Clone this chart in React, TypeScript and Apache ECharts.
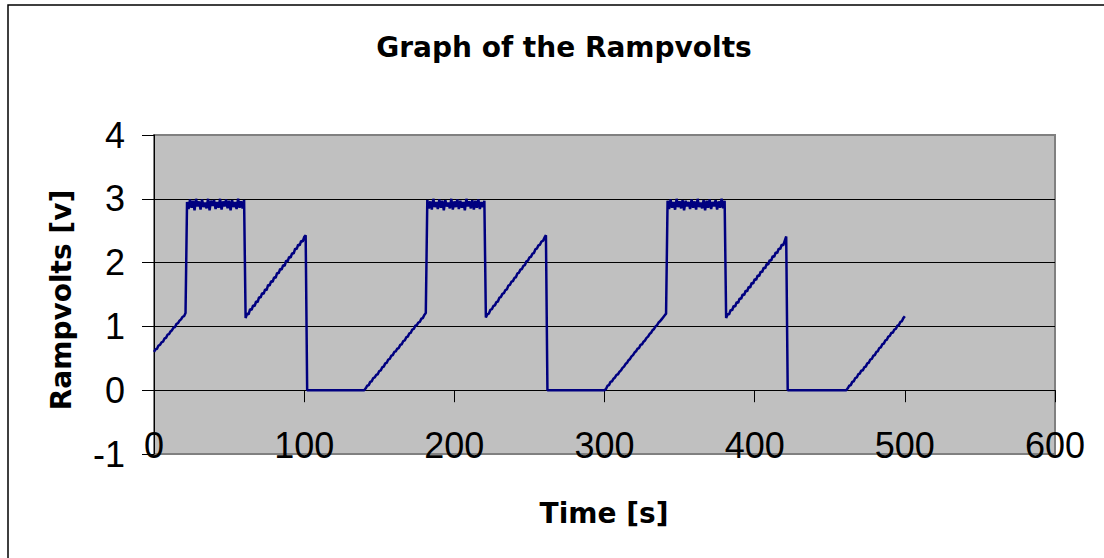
import React, { useEffect, useRef } from "react";
import * as echarts from "echarts";

// Sampled once per second, t = 0 .. 500 s
const rampUpA = [0.60,0.64,0.65,0.70,0.71,0.75,0.76,0.81,0.82,0.87,0.88,0.92,0.94,0.98,0.99,1.04,1.05,1.09,1.11,1.15,1.16,1.21];
const plateauA = [2.95,2.84,2.99,2.86,2.97,2.82,3.0,2.88,2.96,2.83,2.99,2.87,2.94,2.85,3.0,2.82,2.97,2.89,2.98,2.84,2.95,2.86,3.0,2.83,2.96,2.88,2.99,2.85,2.97,2.82,2.98,2.87,2.95,2.84,3.0,2.86,2.96,2.85,2.98];
const slopeA = [1.13,1.20,1.19,1.27,1.26,1.33,1.32,1.39,1.38,1.46,1.45,1.52,1.51,1.58,1.57,1.65,1.64,1.71,1.70,1.77,1.76,1.84,1.83,1.90,1.89,1.96,1.95,2.03,2.02,2.09,2.08,2.15,2.14,2.22,2.21,2.28,2.27,2.34,2.33,2.40,2.43];
const zeroA = [0,0,0,0,0,0,0,0,0,0, 0,0,0,0,0,0,0,0,0,0, 0,0,0,0,0,0,0,0,0,0, 0,0,0,0,0,0,0,0,0];
const rampUpA2 = [0.03,0.07,0.08,0.13,0.14,0.19,0.20,0.24,0.25,0.30,0.31,0.36,0.37,0.42,0.43,0.48,0.49,0.54,0.55,0.60];

const rampUpB = [0.61,0.65,0.66,0.71,0.72,0.77,0.78,0.83,0.84,0.89,0.90,0.95,0.96,1.01,1.02,1.06,1.07,1.12,1.13,1.18,1.21];
const plateauB = [2.98,2.85,2.96,2.83,3.0,2.87,2.95,2.84,2.99,2.86,2.97,2.82,2.98,2.88,2.94,2.85,3.0,2.83,2.96,2.87,2.99,2.84,2.97,2.86,2.95,2.82,3.0,2.88,2.96,2.85,2.98,2.83,2.97,2.86,2.99,2.84,2.95,2.87,2.97];
const slopeB = [1.14,1.19,1.20,1.26,1.27,1.32,1.33,1.38,1.39,1.45,1.46,1.51,1.52,1.57,1.58,1.64,1.65,1.70,1.71,1.76,1.77,1.83,1.84,1.89,1.90,1.95,1.96,2.02,2.03,2.08,2.09,2.14,2.15,2.21,2.22,2.27,2.28,2.33,2.34,2.39,2.43];
const zeroB = [0,0,0,0,0,0,0,0,0,0, 0,0,0,0,0,0,0,0,0,0, 0,0,0,0,0,0,0,0,0,0, 0,0,0,0,0,0,0,0,0];
const rampUpB2 = [0.02,0.07,0.08,0.13,0.14,0.18,0.20,0.24,0.25,0.29,0.31,0.35,0.37,0.41,0.43,0.47,0.49,0.53,0.55,0.59];

const rampUpC = [0.61,0.65,0.66,0.71,0.72,0.76,0.78,0.82,0.84,0.88,0.90,0.94,0.96,1.00,1.02,1.06,1.08,1.11,1.14,1.17,1.20];
const plateauC = [2.97,2.84,2.99,2.86,2.95,2.83,3.0,2.87,2.96,2.85,2.98,2.82,2.97,2.88,2.95,2.84,2.99,2.86,2.96,2.83,3.0,2.87,2.94,2.85,2.98,2.82,2.97,2.86,2.99,2.84,2.95,2.88,2.98,2.83,2.96,2.86,3.0,2.85,2.97];
const slopeC = [1.13,1.19,1.19,1.26,1.25,1.32,1.31,1.38,1.37,1.44,1.43,1.50,1.49,1.56,1.55,1.62,1.61,1.68,1.67,1.74,1.73,1.80,1.79,1.86,1.85,1.92,1.91,1.98,1.97,2.04,2.03,2.10,2.09,2.16,2.15,2.22,2.21,2.28,2.27,2.34,2.41];
const zeroC = [0,0,0,0,0,0,0,0,0,0, 0,0,0,0,0,0,0,0,0,0, 0,0,0,0,0,0,0,0,0,0, 0,0,0,0,0,0,0,0,0,0];
const rampUpC2 = [0.03,0.07,0.08,0.13,0.14,0.19,0.20,0.25,0.26,0.31,0.31,0.36,0.37,0.42,0.43,0.48,0.49,0.54,0.55,0.60,0.61,0.66,0.67,0.72,0.73,0.78,0.79,0.84,0.85,0.90,0.90,0.95,0.96,1.01,1.02,1.07,1.08,1.13,1.16];

const sampleStepSeconds = 1;

const TITLE = "Graph of the Rampvolts";
const X_TITLE = "Time [s]";
const Y_TITLE = "Rampvolts [v]";

export default function App() {
  const ref = useRef<HTMLDivElement>(null);
  useEffect(() => {
    if (!ref.current) return;
    const chart = echarts.init(ref.current, undefined, { renderer: "svg" });
    const volts = [
      ...rampUpA, ...plateauA, ...slopeA, ...zeroA, ...rampUpA2,
      ...rampUpB, ...plateauB, ...slopeB, ...zeroB, ...rampUpB2,
      ...rampUpC, ...plateauC, ...slopeC, ...zeroC, ...rampUpC2,
    ];
    const data = volts.map((v, i) => [i * sampleStepSeconds, v]);
    const axisFont = { fontFamily: "Liberation Sans, Arial, sans-serif", fontSize: 36, color: "#000" };
    chart.setOption({
      animation: false,
      backgroundColor: "#ffffff",
      grid: {
        left: 154, top: 135, right: 49, bottom: 104,
        show: true, backgroundColor: "#C0C0C0", borderColor: "#808080", borderWidth: 2,
      },
      xAxis: {
        type: "value", min: 0, max: 600, interval: 100,
        axisLine: { show: true, onZero: true, lineStyle: { color: "#000", width: 1 } },
        axisTick: { show: true, length: 12, lineStyle: { color: "#000", width: 1 } },
        axisLabel: { ...axisFont, margin: -27 },
        splitLine: { show: false },
      },
      yAxis: {
        type: "value", min: -1, max: 4, interval: 1,
        axisLine: { show: true, onZero: false, lineStyle: { color: "#000", width: 1 } },
        axisTick: { show: true, length: 12, lineStyle: { color: "#000", width: 1 } },
        axisLabel: { ...axisFont, margin: 29 },
        splitLine: { show: true, lineStyle: { color: ["#808080", "#000", "#000", "#000", "#000", "#808080"], width: 1 } },
      },
      graphic: [
        {
          type: "rect", silent: true, z: -10,
          shape: { x: 8, y: 5, width: 1200, height: 600 },
          style: { fill: "none", stroke: "#000", lineWidth: 1.5 },
        },
        {
          type: "text", x: 564, y: 47,
          style: { text: TITLE, font: "bold 28px 'DejaVu Sans'", fill: "#000", textAlign: "center", textVerticalAlign: "middle" },
        },
        {
          type: "text", x: 604, y: 513,
          style: { text: X_TITLE, font: "bold 28px 'DejaVu Sans'", fill: "#000", textAlign: "center", textVerticalAlign: "middle" },
        },
        {
          type: "text", x: 61, y: 300, rotation: Math.PI / 2,
          style: { text: Y_TITLE, font: "bold 28px 'DejaVu Sans'", fill: "#000", textAlign: "center", textVerticalAlign: "middle" },
        },
      ],
      series: [
        {
          type: "line", data, showSymbol: false, symbol: "none",
          lineStyle: { color: "#000080", width: 2.5 },
          itemStyle: { color: "#000080" },
          clip: true,
        },
      ],
    });
    return () => chart.dispose();
  }, []);
  return <div ref={ref} style={{ position: "absolute", left: 0, top: 0, width: 1104, height: 558 }} />;
}
